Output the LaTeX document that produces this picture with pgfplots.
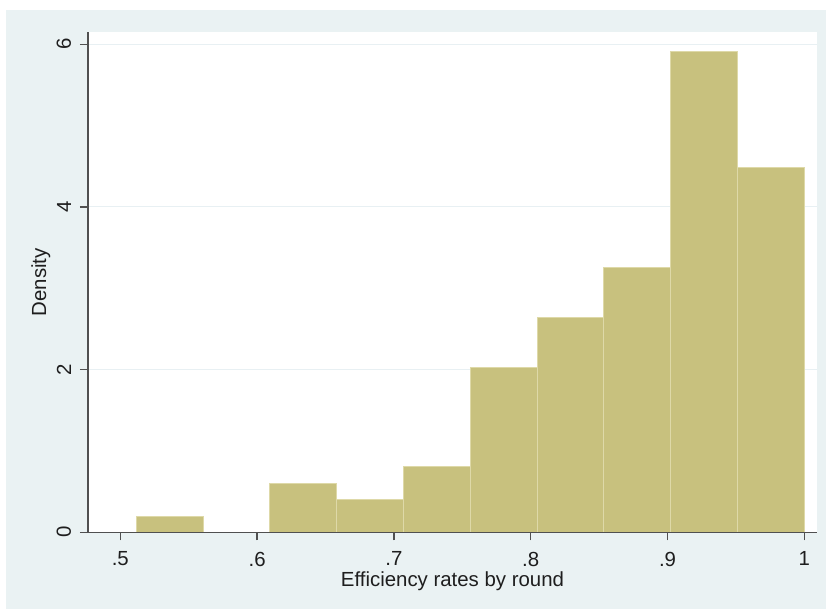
\documentclass[border=0pt]{standalone}
\usepackage{pgfplots}
\pgfplotsset{compat=1.18}
\usepackage{fontspec}
\setmainfont{Liberation Sans}
\definecolor{bgblue}{RGB}{234,242,243}
\definecolor{khaki}{RGB}{200,193,126}
\definecolor{khakiedge}{RGB}{222,217,168}
\definecolor{gridc}{RGB}{232,240,243}
\definecolor{axisc}{RGB}{80,80,80}
\definecolor{textc}{RGB}{30,30,30}
\begin{document}
\begin{tikzpicture}[x=0.75pt,y=0.75pt]
\useasboundingbox (-88,-76.7) rectangle (738,532.3);
\fill[bgblue] (-82,-76.7) rectangle (738,522.3);
\begin{axis}[
  at={(0,0)}, anchor=south west,
  scale only axis, width=546.75pt, height=375.2pt,
  xmin=0.47639, xmax=1.00928, ymin=0, ymax=6.15,
  axis background/.style={fill=white},
  axis lines*=left,
  axis line style={axisc, line width=1pt},
  axis on top,
  tick align=outside, major tick length=6pt,
  tick style={axisc, line width=1pt},
  xtick={0.5,0.6,0.7,0.8,0.9,1},
  xticklabels={.5,.6,.7,.8,.9,1},
  ytick={0,2,4,6}, yticklabels={0,2,4,6},
  tick label style={font=\fontsize{15.3}{17}\selectfont, text=textc},
  xticklabel style={anchor=north, inner sep=0pt},
  xticklabel shift=8.5pt,
  yticklabel style={rotate=90, anchor=south, inner sep=0pt},
  yticklabel shift=6.5pt,
  xlabel={Efficiency rates by round},
  ylabel={Density},
  every axis x label/.style={at={(axis description cs:0.5,-0.1087)}, anchor=base,
    font=\fontsize{15.3}{17}\selectfont, text=textc},
  every axis y label/.style={at={(axis description cs:-0.0573,0.5)}, rotate=90, anchor=base,
    font=\fontsize{15.3}{17}\selectfont, text=textc},
]
\draw[gridc, line width=0.75pt] (axis cs:0.47639,2) -- (axis cs:1.00928,2);
\draw[gridc, line width=0.75pt] (axis cs:0.47639,4) -- (axis cs:1.00928,4);
\draw[gridc, line width=0.75pt] (axis cs:0.47639,6) -- (axis cs:1.00928,6);
\addplot[ybar interval, fill=khaki, draw=khakiedge, line width=0.75pt] coordinates {
  (0.51170,0.200)
  (0.56053,0.000)
  (0.60936,0.600)
  (0.65819,0.400)
  (0.70702,0.810)
  (0.75585,2.030)
  (0.80468,2.640)
  (0.85351,3.250)
  (0.90234,5.910)
  (0.95117,4.490)
  (1.00000,4.490)
};
\end{axis}
\end{tikzpicture}
\end{document}
